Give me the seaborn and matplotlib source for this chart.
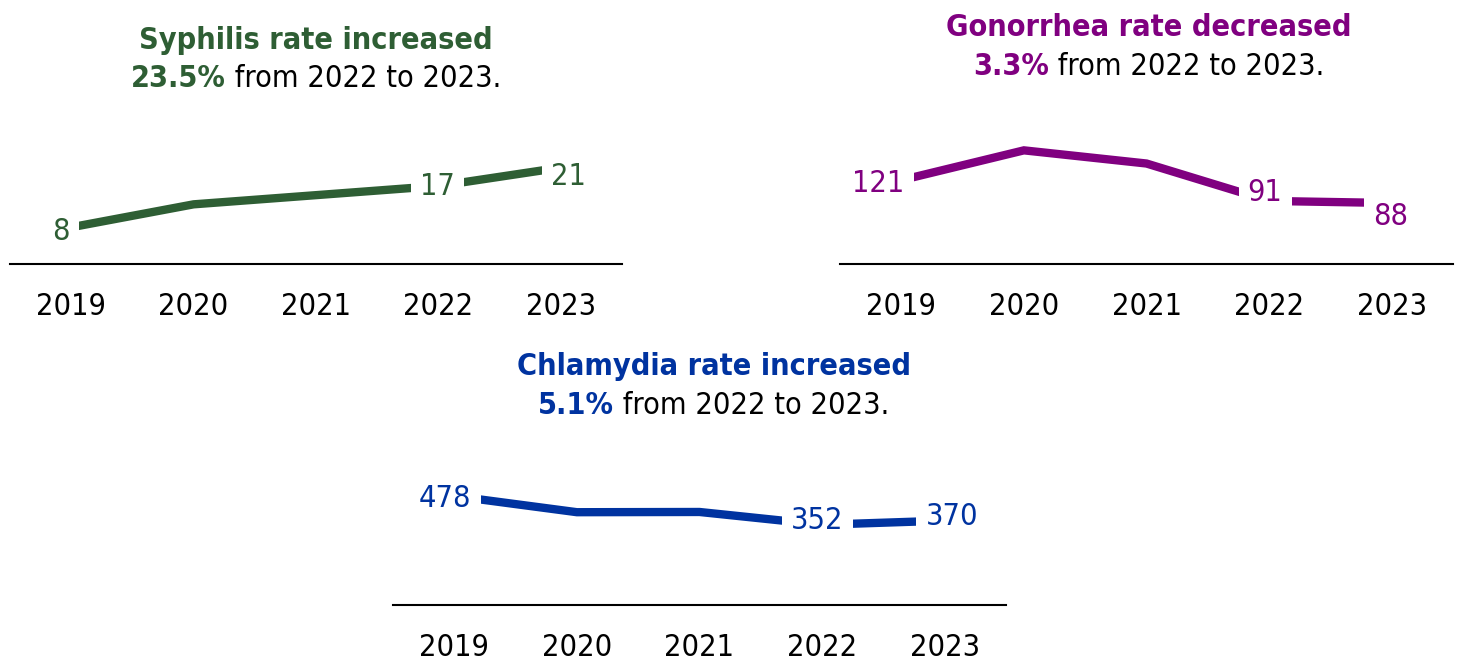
import numpy as np
import pandas as pd
import seaborn as sns
import matplotlib.pyplot as plt

########################################################
# Data (rates per 100,000)
########################################################
years = ["2019", "2020", "2021", "2022", "2023"]
syphilis = [8, 13, 15, 17, 21]
gonorrhea = [121, 164, 145, 91, 88]
chlamydia = [478, 407, 408, 352, 370]

# only these points get a value label
labeled = [0, 3, 4]

headlines = ["Syphilis rate increased", "Gonorrhea rate decreased", "Chlamydia rate increased"]
changes = ["23.5%", "3.3%", "5.1%"]
period = " from 2022 to 2023."

########################################################
# Style / layout (pixels of a 1460x660 canvas)
########################################################
W, H = 1460, 660
GREEN = "#2E5E34"
PURPLE = "#800080"
BLUE = "#0033A0"
FONT = 22
STRETCH = "condensed"

sns.set_style("white")
plt.rcParams["font.family"] = ["DejaVu Sans"]
plt.rcParams["font.stretch"] = STRETCH


def fx(x):
    return x / W


def fy(y):
    return 1 - y / H


panels = [
    dict(values=syphilis, color=GREEN, left=10, right=622, top=130, base=264, ymax=134 / 4.59,
         title_x=316, title_y=(49, 87),
         offsets=[(-10, 4), (-1, 1), (8, 9)]),
    dict(values=gonorrhea, color=PURPLE, left=840, right=1453, top=130, base=264, ymax=134 / 0.693,
         title_x=1149, title_y=(36, 75),
         offsets=[(-23, 3), (-4, -8), (-1, 13)]),
    dict(values=chlamydia, color=BLUE, left=393, right=1006, top=470, base=605, ymax=135 / 0.228,
         title_x=714, title_y=(375, 414),
         offsets=[(-9, 2), (-5, -4), (7, -4)]),
]

fig = plt.figure(figsize=(W / 100, H / 100), dpi=100)

pairs = []
for i, p in enumerate(panels):
    ax = fig.add_axes([fx(p["left"]), fy(p["base"]),
                       (p["right"] - p["left"]) / W, (p["base"] - p["top"]) / H])
    df = pd.DataFrame({"year": years, "rate": p["values"]})
    sns.lineplot(data=df, x="year", y="rate", ax=ax, color=p["color"], linewidth=6,
                 solid_capstyle="butt", solid_joinstyle="miter")
    ax.set_xlim(-0.5, 4.5)
    ax.set_ylim(0, p["ymax"])
    ax.set_yticks([])
    ax.set_xlabel("")
    ax.set_ylabel("")
    for s in ["left", "right", "top"]:
        ax.spines[s].set_visible(False)
    ax.spines["bottom"].set_linewidth(1.5)
    ax.spines["bottom"].set_color("black")
    ax.tick_params(axis="x", length=0, pad=20, labelsize=FONT, labelcolor="black")
    ax.patch.set_alpha(0)

    # value labels with white boxes that hide the line underneath
    for k, (dx, dy) in zip(labeled, p["offsets"]):
        ax.annotate(str(p["values"][k]), (k, p["values"][k]), xytext=(dx * 0.72, -dy * 0.72),
                    textcoords="offset points", ha="center", va="center", fontsize=FONT,
                    color=p["color"], zorder=5,
                    bbox=dict(boxstyle="square,pad=0.3", facecolor="white", edgecolor="none"))

    # headline
    fig.text(fx(p["title_x"]), fy(p["title_y"][0]), headlines[i], ha="center", va="baseline",
             fontsize=FONT, fontweight="bold", color=p["color"])
    t1 = fig.text(0, fy(p["title_y"][1]), changes[i], ha="left", va="baseline",
                  fontsize=FONT, fontweight="bold", color=p["color"])
    t2 = fig.text(0, fy(p["title_y"][1]), period, ha="left", va="baseline",
                  fontsize=FONT, color="black")
    pairs.append((t1, t2, p["title_x"]))

# center the mixed bold/regular second line
fig.canvas.draw()
r = fig.canvas.get_renderer()
for t1, t2, cx in pairs:
    w1 = t1.get_window_extent(r).width
    w2 = t2.get_window_extent(r).width
    x0 = cx - (w1 + w2) / 2
    t1.set_x(fx(x0))
    t2.set_x(fx(x0 + w1))

fig.savefig("out.png", dpi=100)
